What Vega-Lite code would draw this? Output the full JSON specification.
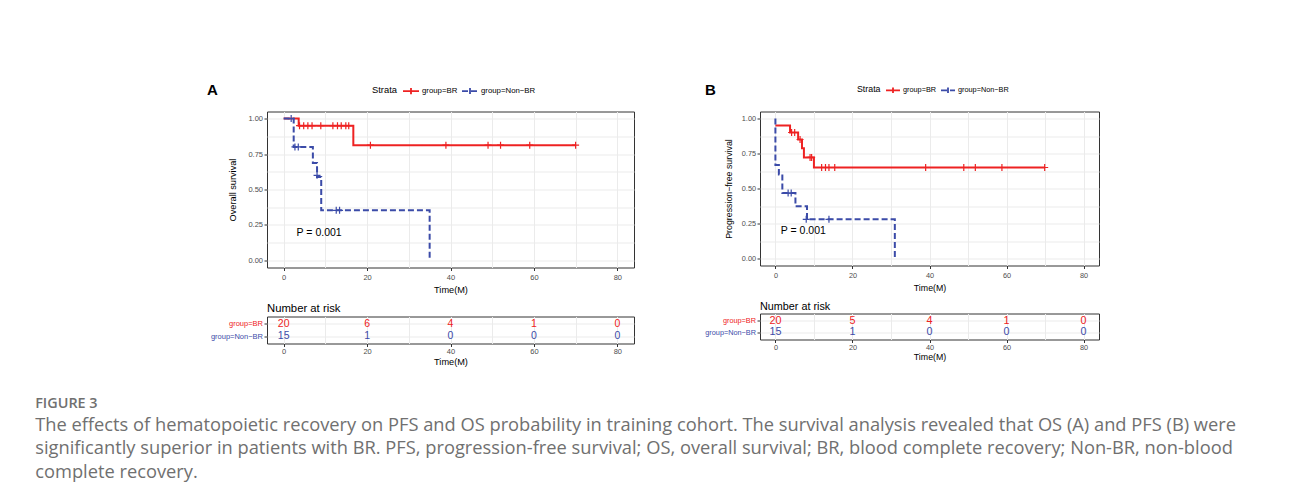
{
  "$schema": "https://vega.github.io/schema/vega-lite/v6.json",
  "background": "white",
  "padding": {"left": 35, "top": 81.5, "right": 10, "bottom": 15},
  "spacing": 69,
  "resolve": {"scale": {"color": "independent", "strokeDash": "independent"}},
  "title": {
    "text": "FIGURE 3",
    "subtitle": [
      "The effects of hematopoietic recovery on PFS and OS probability in training cohort. The survival analysis revealed that OS (A) and PFS (B) were",
      "significantly superior in patients with BR. PFS, progression-free survival; OS, overall survival; BR, blood complete recovery; Non-BR, non-blood",
      "complete recovery."
    ],
    "orient": "bottom",
    "anchor": "start",
    "frame": "bounds",
    "dx": -171.3,
    "offset": 30,
    "font": "Open Sans",
    "fontSize": 14.4,
    "fontWeight": 600,
    "color": "#707070",
    "subtitleFont": "Open Sans",
    "subtitleFontSize": 18.3,
    "subtitleColor": "#707070",
    "subtitleLineHeight": 23.3,
    "subtitlePadding": 6
  },
  "datasets": {
    "osCurve": [
      {"group": "group=BR", "t": 0, "s": 1},
      {"group": "group=BR", "t": 3.6, "s": 0.95},
      {"group": "group=BR", "t": 16.7, "s": 0.8125},
      {"group": "group=BR", "t": 70, "s": 0.8125},
      {"group": "group=Non−BR", "t": 0, "s": 1},
      {"group": "group=Non−BR", "t": 2.4, "s": 0.8},
      {"group": "group=Non−BR", "t": 7, "s": 0.686},
      {"group": "group=Non−BR", "t": 8, "s": 0.588},
      {"group": "group=Non−BR", "t": 9, "s": 0.353},
      {"group": "group=Non−BR", "t": 35, "s": 0}
    ],
    "osCens": [
      {"group": "group=BR", "t": 3.8, "s": 0.95},
      {"group": "group=BR", "t": 4.8, "s": 0.95},
      {"group": "group=BR", "t": 5.8, "s": 0.95},
      {"group": "group=BR", "t": 6.8, "s": 0.95},
      {"group": "group=BR", "t": 8.9, "s": 0.95},
      {"group": "group=BR", "t": 11.8, "s": 0.95},
      {"group": "group=BR", "t": 12.9, "s": 0.95},
      {"group": "group=BR", "t": 13.8, "s": 0.95},
      {"group": "group=BR", "t": 14.9, "s": 0.95},
      {"group": "group=BR", "t": 15.6, "s": 0.95},
      {"group": "group=BR", "t": 20.8, "s": 0.8125},
      {"group": "group=BR", "t": 38.9, "s": 0.8125},
      {"group": "group=BR", "t": 49, "s": 0.8125},
      {"group": "group=BR", "t": 52, "s": 0.8125},
      {"group": "group=BR", "t": 59, "s": 0.8125},
      {"group": "group=BR", "t": 70, "s": 0.8125},
      {"group": "group=Non−BR", "t": 1.8, "s": 1},
      {"group": "group=Non−BR", "t": 2.7, "s": 0.8},
      {"group": "group=Non−BR", "t": 3.5, "s": 0.8},
      {"group": "group=Non−BR", "t": 8, "s": 0.6},
      {"group": "group=Non−BR", "t": 12.6, "s": 0.353},
      {"group": "group=Non−BR", "t": 13.4, "s": 0.353}
    ],
    "pfsCurve": [
      {"group": "group=BR", "t": 0, "s": 0.95},
      {"group": "group=BR", "t": 3.8, "s": 0.9},
      {"group": "group=BR", "t": 5.9, "s": 0.85},
      {"group": "group=BR", "t": 6.9, "s": 0.787},
      {"group": "group=BR", "t": 7.4, "s": 0.722},
      {"group": "group=BR", "t": 10, "s": 0.65},
      {"group": "group=BR", "t": 70, "s": 0.65},
      {"group": "group=Non−BR", "t": 0, "s": 1},
      {"group": "group=Non−BR", "t": 0, "s": 0.667},
      {"group": "group=Non−BR", "t": 0.9, "s": 0.6},
      {"group": "group=Non−BR", "t": 1.8, "s": 0.467},
      {"group": "group=Non−BR", "t": 5.2, "s": 0.373},
      {"group": "group=Non−BR", "t": 8.2, "s": 0.28},
      {"group": "group=Non−BR", "t": 31, "s": 0}
    ],
    "pfsCens": [
      {"group": "group=BR", "t": 4.2, "s": 0.9},
      {"group": "group=BR", "t": 5, "s": 0.9},
      {"group": "group=BR", "t": 6.4, "s": 0.85},
      {"group": "group=BR", "t": 9, "s": 0.722},
      {"group": "group=BR", "t": 9.4, "s": 0.722},
      {"group": "group=BR", "t": 12, "s": 0.65},
      {"group": "group=BR", "t": 13, "s": 0.65},
      {"group": "group=BR", "t": 13.9, "s": 0.65},
      {"group": "group=BR", "t": 15.4, "s": 0.65},
      {"group": "group=BR", "t": 39, "s": 0.65},
      {"group": "group=BR", "t": 48.9, "s": 0.65},
      {"group": "group=BR", "t": 51.9, "s": 0.65},
      {"group": "group=BR", "t": 58.8, "s": 0.65},
      {"group": "group=BR", "t": 69.9, "s": 0.65},
      {"group": "group=Non−BR", "t": 3.3, "s": 0.467},
      {"group": "group=Non−BR", "t": 4.1, "s": 0.467},
      {"group": "group=Non−BR", "t": 8, "s": 0.28},
      {"group": "group=Non−BR", "t": 13.9, "s": 0.28}
    ],
    "riskA": [
      {"group": "group=BR", "t": 0, "n": 20},
      {"group": "group=BR", "t": 20, "n": 6},
      {"group": "group=BR", "t": 40, "n": 4},
      {"group": "group=BR", "t": 60, "n": 1},
      {"group": "group=BR", "t": 80, "n": 0},
      {"group": "group=Non−BR", "t": 0, "n": 15},
      {"group": "group=Non−BR", "t": 20, "n": 1},
      {"group": "group=Non−BR", "t": 40, "n": 0},
      {"group": "group=Non−BR", "t": 60, "n": 0},
      {"group": "group=Non−BR", "t": 80, "n": 0}
    ],
    "riskB": [
      {"group": "group=BR", "t": 0, "n": 20},
      {"group": "group=BR", "t": 20, "n": 5},
      {"group": "group=BR", "t": 40, "n": 4},
      {"group": "group=BR", "t": 60, "n": 1},
      {"group": "group=BR", "t": 80, "n": 0},
      {"group": "group=Non−BR", "t": 0, "n": 15},
      {"group": "group=Non−BR", "t": 20, "n": 1},
      {"group": "group=Non−BR", "t": 40, "n": 0},
      {"group": "group=Non−BR", "t": 60, "n": 0},
      {"group": "group=Non−BR", "t": 80, "n": 0}
    ]
  },
  "hconcat": [
    {
      "bounds": "flush",
      "spacing": 49,
      "resolve": {"scale": {"color": "independent", "strokeDash": "independent"}},
      "vconcat": [
        {
          "width": 367,
          "height": 156,
          "title": {"text": "A", "anchor": "start", "frame": "group", "dx": -60, "dy": 28, "offset": 0, "fontSize": 15, "fontWeight": "bold", "baseline": "alphabetic"},
          "resolve": {"axis": {"x": "independent", "y": "independent"}},
          "layer": [
            {
              "data": {"name": "osCurve"},
              "mark": {"type": "line", "interpolate": "step-after", "strokeWidth": 2},
              "encoding": {
                "x": {"field": "t", "type": "quantitative", "scale": {"domain": [-4, 84], "nice": false, "zero": false},
                      "axis": {"orient": "bottom", "values": [0, 10, 20, 30, 40, 50, 60, 70, 80], "grid": true, "labels": false, "ticks": false, "title": null, "zindex": 0}},
                "y": {"field": "s", "type": "quantitative", "scale": {"domain": [-0.05, 1.05], "nice": false, "zero": false},
                      "axis": {"orient": "left", "values": [0, 0.125, 0.25, 0.375, 0.5, 0.625, 0.75, 0.875, 1], "grid": true, "labels": false, "ticks": false, "title": null, "zindex": 0}},
                "color": {"field": "group", "type": "nominal", "scale": {"domain": ["group=BR", "group=Non−BR"], "range": ["#EE2222", "#3B4BA8"]},
                          "legend": {"title": "Strata", "orient": "none", "legendX": 105, "legendY": -29.5, "direction": "horizontal", "titleOrient": "left", "titleFontSize": 9.4, "titlePadding": 4, "titleBaseline": "middle", "labelFontSize": 7.8, "labelOffset": 2, "columnPadding": 0, "symbolType": "M-1,0H1M0,-0.4V0.4", "symbolSize": 256, "symbolStrokeWidth": 1.8}},
                "strokeDash": {"field": "group", "type": "nominal", "scale": {"domain": ["group=BR", "group=Non−BR"], "range": [[1, 0], [6, 3]]},
                          "legend": {"title": "Strata", "orient": "none", "legendX": 105, "legendY": -29.5, "direction": "horizontal", "titleOrient": "left", "titleFontSize": 9.4, "titlePadding": 4, "titleBaseline": "middle", "labelFontSize": 7.8, "labelOffset": 2, "columnPadding": 0, "symbolType": "M-1,0H1M0,-0.4V0.4", "symbolSize": 256, "symbolStrokeWidth": 1.8}}
              }
            },
            {
              "data": {"name": "osCens"},
              "mark": {"type": "point", "shape": "M-1,0H1M0,-1V1", "filled": false, "size": 49, "strokeWidth": 1.2, "opacity": 1},
              "encoding": {
                "x": {"field": "t", "type": "quantitative",
                      "axis": {"orient": "bottom", "values": [0, 20, 40, 60, 80], "grid": false, "title": "Time(M)", "tickSize": 3, "labelFontSize": 7.5, "labelPadding": 2.5, "titleFontSize": 9.2, "titlePadding": 5}},
                "y": {"field": "s", "type": "quantitative",
                      "axis": {"orient": "left", "values": [0, 0.25, 0.5, 0.75, 1], "format": ".2f", "grid": false, "title": "Overall survival", "tickSize": 3, "labelFontSize": 7.5, "labelPadding": 1.5, "titleFontSize": 9.2, "titlePadding": 10}},
                "color": {"field": "group", "type": "nominal"}
              }
            },
            {
              "data": {"values": [{"t": 3.1, "s": 0.19, "label": "P = 0.001"}]},
              "mark": {"type": "text", "align": "left", "baseline": "middle", "fontSize": 10.5, "color": "#000000"},
              "encoding": {
                "x": {"field": "t", "type": "quantitative", "axis": null},
                "y": {"field": "s", "type": "quantitative", "axis": null},
                "text": {"field": "label"}
              }
            }
          ]
        },
        {
          "width": 367,
          "height": 27,
          "title": {"text": "Number at risk", "anchor": "start", "frame": "group", "fontSize": 11.3, "fontWeight": "normal", "offset": 6, "dy": 13, "baseline": "alphabetic"},
          "resolve": {"axis": {"x": "independent", "y": "independent"}},
          "layer": [
            {
              "data": {"name": "riskA"},
              "mark": {"type": "point", "opacity": 0},
              "encoding": {
                "x": {"field": "t", "type": "quantitative", "scale": {"domain": [-4, 84], "nice": false, "zero": false},
                      "axis": {"orient": "bottom", "values": [0, 10, 20, 30, 40, 50, 60, 70, 80], "grid": true, "labels": false, "ticks": false, "title": null, "zindex": 0}},
                "y": {"field": "group", "type": "nominal", "scale": {"type": "point", "padding": 0.6, "domain": ["group=BR", "group=Non−BR"]},
                      "axis": {"orient": "left", "grid": true, "labels": false, "ticks": false, "title": null, "zindex": 0}}
              }
            },
            {
              "data": {"name": "riskA"},
              "mark": {"type": "text", "fontSize": 10.5, "baseline": "middle"},
              "encoding": {
                "x": {"field": "t", "type": "quantitative",
                      "axis": {"orient": "bottom", "values": [0, 20, 40, 60, 80], "grid": false, "title": "Time(M)", "tickSize": 3, "labelFontSize": 7.5, "labelPadding": 1, "titleFontSize": 9.2, "titlePadding": 2}},
                "y": {"field": "group", "type": "nominal",
                      "axis": {"orient": "left", "grid": false, "title": null, "tickSize": 3, "labelFontSize": 7.5, "labelPadding": 1.5,
                               "labelColor": {"condition": {"test": "datum.value == 'group=BR'", "value": "#EE2222"}, "value": "#3B4BA8"}}},
                "color": {"field": "group", "type": "nominal", "scale": {"domain": ["group=BR", "group=Non−BR"], "range": ["#EE2222", "#3B4BA8"]}, "legend": null},
                "text": {"field": "n", "type": "quantitative"}
              }
            }
          ]
        }
      ]
    },
    {
      "bounds": "flush",
      "spacing": 48,
      "resolve": {"scale": {"color": "independent", "strokeDash": "independent"}},
      "vconcat": [
        {
          "width": 339,
          "height": 154,
          "title": {"text": "B", "anchor": "start", "frame": "group", "dx": -55, "dy": 28, "offset": 0, "fontSize": 15, "fontWeight": "bold", "baseline": "alphabetic"},
          "resolve": {"axis": {"x": "independent", "y": "independent"}},
          "layer": [
            {
              "data": {"name": "pfsCurve"},
              "mark": {"type": "line", "interpolate": "step-after", "strokeWidth": 2},
              "encoding": {
                "x": {"field": "t", "type": "quantitative", "scale": {"domain": [-4, 84], "nice": false, "zero": false},
                      "axis": {"orient": "bottom", "values": [0, 10, 20, 30, 40, 50, 60, 70, 80], "grid": true, "labels": false, "ticks": false, "title": null, "zindex": 0}},
                "y": {"field": "s", "type": "quantitative", "scale": {"domain": [-0.05, 1.05], "nice": false, "zero": false},
                      "axis": {"orient": "left", "values": [0, 0.125, 0.25, 0.375, 0.5, 0.625, 0.75, 0.875, 1], "grid": true, "labels": false, "ticks": false, "title": null, "zindex": 0}},
                "color": {"field": "group", "type": "nominal", "scale": {"domain": ["group=BR", "group=Non−BR"], "range": ["#EE2222", "#3B4BA8"]},
                          "legend": {"title": "Strata", "orient": "none", "legendX": 97, "legendY": -29.5, "direction": "horizontal", "titleOrient": "left", "titleFontSize": 8.8, "titlePadding": 4, "titleBaseline": "middle", "labelFontSize": 7.3, "labelOffset": 2, "columnPadding": 0, "symbolType": "M-1,0H1M0,-0.4V0.4", "symbolSize": 196, "symbolStrokeWidth": 1.8}},
                "strokeDash": {"field": "group", "type": "nominal", "scale": {"domain": ["group=BR", "group=Non−BR"], "range": [[1, 0], [6, 3]]},
                          "legend": {"title": "Strata", "orient": "none", "legendX": 97, "legendY": -29.5, "direction": "horizontal", "titleOrient": "left", "titleFontSize": 8.8, "titlePadding": 4, "titleBaseline": "middle", "labelFontSize": 7.3, "labelOffset": 2, "columnPadding": 0, "symbolType": "M-1,0H1M0,-0.4V0.4", "symbolSize": 196, "symbolStrokeWidth": 1.8}}
              }
            },
            {
              "data": {"name": "pfsCens"},
              "mark": {"type": "point", "shape": "M-1,0H1M0,-1V1", "filled": false, "size": 49, "strokeWidth": 1.2, "opacity": 1},
              "encoding": {
                "x": {"field": "t", "type": "quantitative",
                      "axis": {"orient": "bottom", "values": [0, 20, 40, 60, 80], "grid": false, "title": "Time(M)", "tickSize": 3, "labelFontSize": 7.3, "labelPadding": 2.5, "titleFontSize": 8.8, "titlePadding": 5}},
                "y": {"field": "s", "type": "quantitative",
                      "axis": {"orient": "left", "values": [0, 0.25, 0.5, 0.75, 1], "format": ".2f", "grid": false, "title": "Progression−free survival", "tickSize": 3, "labelFontSize": 7.3, "labelPadding": 1.5, "titleFontSize": 8.8, "titlePadding": 8}},
                "color": {"field": "group", "type": "nominal"}
              }
            },
            {
              "data": {"values": [{"t": 1.4, "s": 0.2, "label": "P = 0.001"}]},
              "mark": {"type": "text", "align": "left", "baseline": "middle", "fontSize": 10.5, "color": "#000000"},
              "encoding": {
                "x": {"field": "t", "type": "quantitative", "axis": null},
                "y": {"field": "s", "type": "quantitative", "axis": null},
                "text": {"field": "label"}
              }
            }
          ]
        },
        {
          "width": 339,
          "height": 26,
          "title": {"text": "Number at risk", "anchor": "start", "frame": "group", "fontSize": 10.8, "fontWeight": "normal", "offset": 6, "dy": 13, "baseline": "alphabetic"},
          "resolve": {"axis": {"x": "independent", "y": "independent"}},
          "layer": [
            {
              "data": {"name": "riskB"},
              "mark": {"type": "point", "opacity": 0},
              "encoding": {
                "x": {"field": "t", "type": "quantitative", "scale": {"domain": [-4, 84], "nice": false, "zero": false},
                      "axis": {"orient": "bottom", "values": [0, 10, 20, 30, 40, 50, 60, 70, 80], "grid": true, "labels": false, "ticks": false, "title": null, "zindex": 0}},
                "y": {"field": "group", "type": "nominal", "scale": {"type": "point", "padding": 0.6, "domain": ["group=BR", "group=Non−BR"]},
                      "axis": {"orient": "left", "grid": true, "labels": false, "ticks": false, "title": null, "zindex": 0}}
              }
            },
            {
              "data": {"name": "riskB"},
              "mark": {"type": "text", "fontSize": 10.8, "baseline": "middle"},
              "encoding": {
                "x": {"field": "t", "type": "quantitative",
                      "axis": {"orient": "bottom", "values": [0, 20, 40, 60, 80], "grid": false, "title": "Time(M)", "tickSize": 3, "labelFontSize": 7.3, "labelPadding": 1, "titleFontSize": 8.8, "titlePadding": 2}},
                "y": {"field": "group", "type": "nominal",
                      "axis": {"orient": "left", "grid": false, "title": null, "tickSize": 3, "labelFontSize": 7.3, "labelPadding": 1.5,
                               "labelColor": {"condition": {"test": "datum.value == 'group=BR'", "value": "#EE2222"}, "value": "#3B4BA8"}}},
                "color": {"field": "group", "type": "nominal", "scale": {"domain": ["group=BR", "group=Non−BR"], "range": ["#EE2222", "#3B4BA8"]}, "legend": null},
                "text": {"field": "n", "type": "quantitative"}
              }
            }
          ]
        }
      ]
    }
  ],
  "config": {
    "font": "Liberation Sans",
    "view": {"stroke": "#333333", "strokeWidth": 1},
    "axis": {"domain": false, "labelFont": "Liberation Sans", "titleFont": "Liberation Sans", "titleFontWeight": "normal", "titleColor": "#000000", "labelColor": "#4D4D4D", "tickColor": "#333333", "gridColor": "#EBEBEB", "gridWidth": 1},
    "legend": {"labelFont": "Liberation Sans", "titleFont": "Liberation Sans", "titleFontWeight": "normal", "titleColor": "#000000", "labelColor": "#000000"},
    "title": {"font": "Liberation Sans", "color": "#000000"},
    "text": {"font": "Liberation Sans"}
  }
}
